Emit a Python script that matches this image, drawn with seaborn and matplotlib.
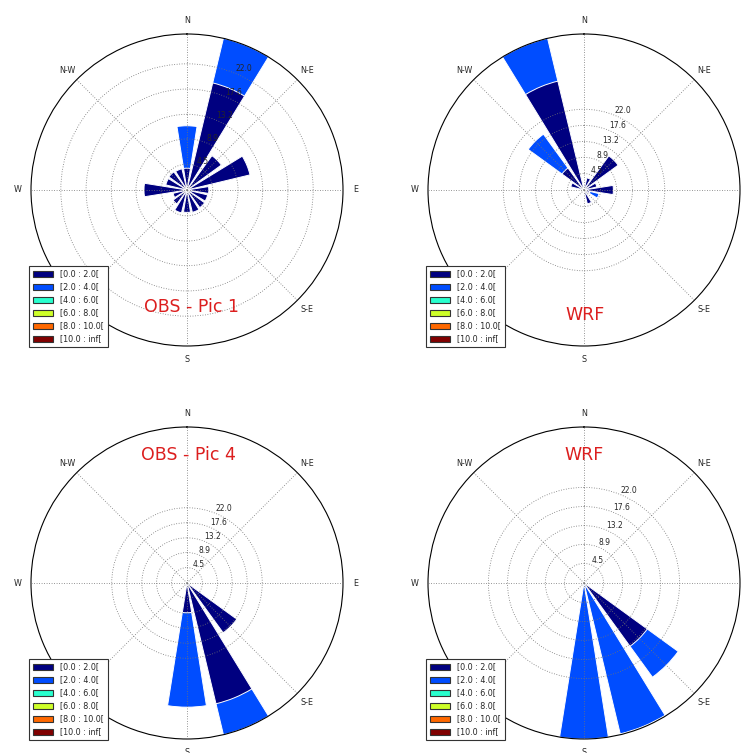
import numpy as np
import matplotlib
matplotlib.use("Agg")
import matplotlib.pyplot as plt
from matplotlib.patches import Patch
import seaborn as sns

# ---------------- data ----------------
directions = ["N", "NNE", "NE", "ENE", "E", "ESE", "SE", "SSE",
              "S", "SSW", "SW", "WSW", "W", "WNW", "NW", "NNW"]
dir_degrees = [0, 22.5, 45, 67.5, 90, 112.5, 135, 157.5,
               180, 202.5, 225, 247.5, 270, 292.5, 315, 337.5]

speed_bins = ["[0.0 : 2.0[", "[2.0 : 4.0[", "[4.0 : 6.0[",
              "[6.0 : 8.0[", "[8.0 : 10.0[", "[10.0 : inf["]

# frequency (%) per direction, bin [0-2[ and [2-4[
obs1_b0 = [3.8, 19.2, 7.4, 11.3, 3.8, 3.7, 3.8, 4.0, 3.9, 4.1, 3.0, 2.5, 7.5, 3.8, 3.9, 3.8]
obs1_b1 = [7.4, 8.0, 0, 0, 0, 0, 0, 0, 0, 0, 0, 0, 0, 0, 0, 0]

wrf1_b0 = [0, 3.4, 11.5, 3.6, 8.0, 1.7, 0, 3.9, 0, 0, 0, 0, 0, 3.7, 7.4, 30.5]
wrf1_b1 = [0, 0, 0, 0, 0, 2.5, 0, 0, 0, 0, 0, 0, 0, 0, 11.4, 12.0]

obs4_b0 = [0, 0, 0, 0, 0, 0, 18.0, 36.3, 8.7, 0, 0, 0, 0, 0, 0, 0]
obs4_b1 = [0, 0, 0, 0, 0, 0, 0, 9.3, 27.6, 0, 0, 0, 0, 0, 0, 0]

wrf4_b0 = [0, 0, 0, 0, 0, 0, 18.0, 0, 0, 0, 0, 0, 0, 0, 0, 0]
wrf4_b1 = [0, 0, 0, 0, 0, 0, 8.8, 35.7, 35.9, 0, 0, 0, 0, 0, 0, 0]

radial_ticks = [4.5, 8.9, 13.2, 17.6, 22.0]
radial_labels = ["4.5", "8.9", "13.2", "17.6", "22.0"]
compass_labels = ["N", "N-E", "E", "S-E", "S", "S-W", "W", "N-W"]

panel_titles = ["OBS - Pic 1", "WRF", "OBS - Pic 4", "WRF"]

# ---------------- style ----------------
sns.set_style("white")
plt.rcParams["font.family"] = ["DejaVu Sans"]

palette = sns.color_palette([matplotlib.colormaps["jet"](v) for v in np.linspace(0, 1, 6)])

fig = plt.figure(figsize=(7.5, 7.53), dpi=100)

W, H = 750.0, 753.0
size = 312.0
panels = [
    dict(b0=obs1_b0, b1=obs1_b1, left=31, top=34, title_xy=(0.516, 0.125)),
    dict(b0=wrf1_b0, b1=wrf1_b1, left=428, top=34, title_xy=(0.503, 0.099)),
    dict(b0=obs4_b0, b1=obs4_b1, left=31, top=427, title_xy=(0.504, 0.909)),
    dict(b0=wrf4_b0, b1=wrf4_b1, left=428, top=427, title_xy=(0.501, 0.910)),
]

theta = np.deg2rad(np.array(dir_degrees))

for i, p in enumerate(panels):
    rect = [p["left"] / W, (H - p["top"] - size) / H, size / W, size / H]
    ax = fig.add_axes(rect, projection="polar")
    ax.set_theta_zero_location("N")
    ax.set_theta_direction(-1)

    b0 = np.array(p["b0"])
    b1 = np.array(p["b1"])
    cum = b0 + b1
    # stacked: draw the cumulative total first, then the lower bin over it
    sns.barplot(x=theta, y=cum, native_scale=True, orient="x", color=palette[1],
                saturation=1, width=0.8, edgecolor="white", linewidth=0.7,
                errorbar=None, ax=ax)
    sns.barplot(x=theta, y=b0, native_scale=True, orient="x", color=palette[0],
                saturation=1, width=0.8, edgecolor="white", linewidth=0.7,
                errorbar=None, ax=ax)

    ax.set_xlabel("")
    ax.set_ylabel("")
    ax.set_ylim(0, cum.max())
    ax.set_thetagrids(np.arange(0, 360, 45), labels=compass_labels, fontsize=5.8)
    ax.set_rgrids(radial_ticks, labels=radial_labels, angle=22.5, fontsize=5.5)
    ax.tick_params(axis="x", pad=-1)
    ax.set_axisbelow(False)
    ax.grid(True, color="0.45", linestyle=(0, (1, 2)), linewidth=0.6)
    ax.spines["polar"].set_color("black")
    ax.spines["polar"].set_linewidth(0.8)

    handles = [Patch(facecolor=c, edgecolor="#333333", linewidth=0.8, label=l)
               for c, l in zip(palette, speed_bins)]
    leg = ax.legend(handles=handles, loc="lower left", bbox_to_anchor=(-0.006, -0.004),
                    borderaxespad=0, fontsize=5.8, handlelength=2.5, handleheight=0.75,
                    handletextpad=0.9, borderpad=0.45, labelspacing=0.5,
                    fancybox=False, framealpha=1)
    leg.get_frame().set_edgecolor("#333333")
    leg.get_frame().set_linewidth(0.8)

    ax.text(p["title_xy"][0], p["title_xy"][1], panel_titles[i], transform=ax.transAxes,
            ha="center", va="center", color="#dc1e1e", fontsize=12.5)

fig.savefig("out.png", dpi=100)
